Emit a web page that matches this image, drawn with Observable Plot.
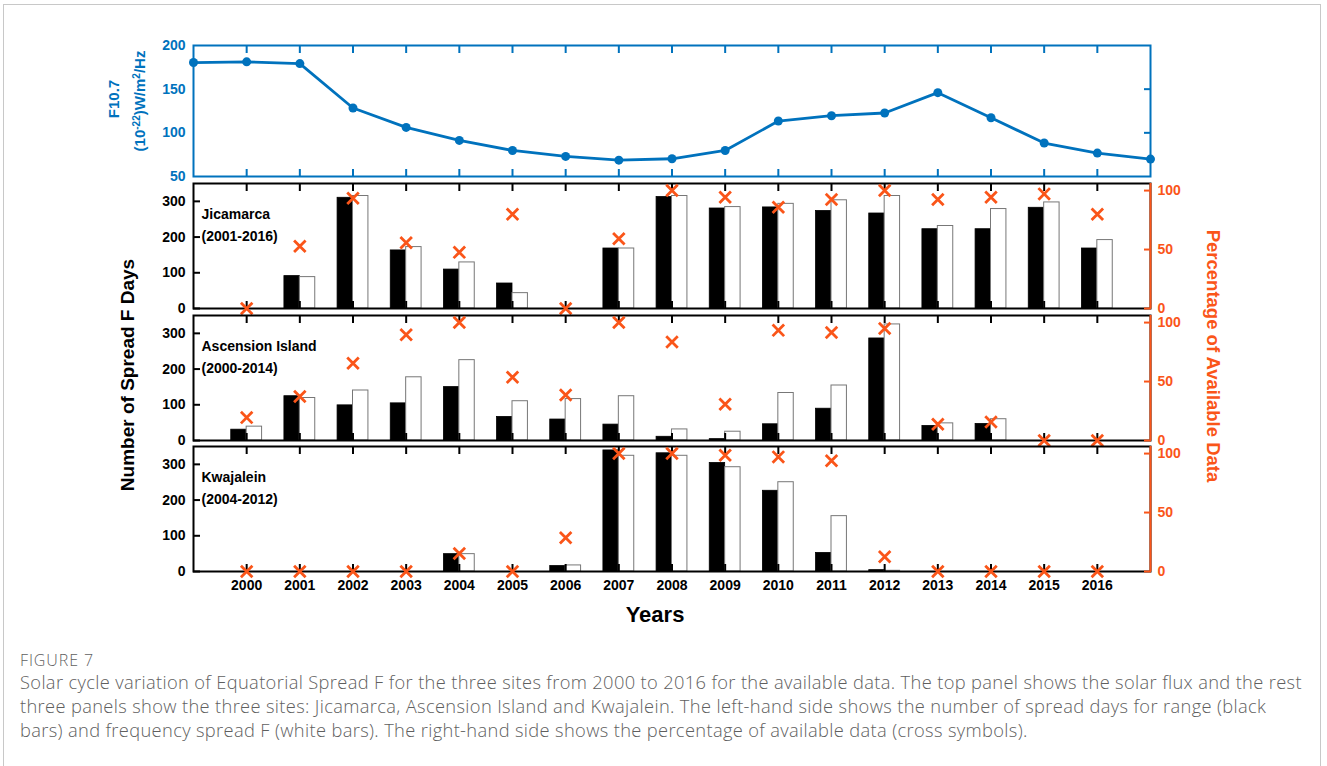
<!DOCTYPE html>
<html><head><meta charset="utf-8">
<script src="https://cdn.jsdelivr.net/npm/d3@7"></script>
<script src="https://cdn.jsdelivr.net/npm/@observablehq/plot@0.6"></script>
<style>
html,body{margin:0;padding:0;background:#fff;overflow:hidden;}
#fig{position:relative;width:1327px;height:766px;font-family:"Liberation Sans",Arial,sans-serif;}
.panel{position:absolute;left:0;}
.lbl{position:absolute;font-weight:bold;white-space:nowrap;line-height:1;font-family:"Liberation Sans",Arial,sans-serif;}
.cap{position:absolute;left:20px;font-family:"Open Sans","Noto Sans",sans-serif;color:#5f5f5f;white-space:nowrap;font-weight:300;}
</style></head><body>
<div id="fig"></div>
<script>
// ---------- data ----------
const years = [2000,2001,2002,2003,2004,2005,2006,2007,2008,2009,2010,2011,2012,2013,2014,2015,2016];
const fluxYears = [1999,2000,2001,2002,2003,2004,2005,2006,2007,2008,2009,2010,2011,2012,2013,2014,2015,2016,2017];
const f107 = [180.5,181.3,179.3,128.4,106.2,91.3,79.8,73.0,68.7,70.3,79.8,113.5,119.6,122.7,146.0,117.3,88.3,76.8,69.9];

const sites = ["Jicamarca","Ascension Island","Kwajalein"];
const spans = ["(2001-2016)","(2000-2014)","(2004-2012)"];

const jicRange = [null,90.7,310,162.6,109,70,null,168,312,280,283,273,266,222,222,282,168];
const jicFreq  = [null,87.9,315,172,129,43,null,168,315,284,293,303,315,231,278.5,297,191.6];
const jicPct   = [0,52.7,93.5,55.8,47.6,79.9,0,59.2,100,94.3,85.8,92.4,100,92.4,94.3,97.2,79.9];

const ascRange = [30.3,124,98.4,104,149.5,66,58.7,44.5,10.4,3.8,45.4,89,285.7,40.7,46.4,null,null];
const ascFreq  = [38.8,119,140,177,225,110,116,124,31,24.6,133,154,325,48,59.6,null,null];
const ascPct   = [19.4,37.3,65.5,89.7,100,53.6,38.5,100,83.5,30.8,93.4,91.5,94.9,13.7,15.7,0,0];

const kwaRange = [null,null,null,null,48.6,null,15.2,339,331,304,226,52,3.8,null,null,null,null];
const kwaFreq  = [null,null,null,null,48.6,null,17,324,324,292,250,155,2,null,null,null,null];
const kwaPct   = [0,0,0,0,15.3,0,28.7,100,100,98.6,97.2,94,12.5,0,0,0,0];

const fluxTicks = [50,100,150,200];
const dayTicks = [0,100,200,300];
const pctTicks = [0,50,100];

// ---------- layout ----------
const W = 1327, X0 = 193, X1 = 1150;
const BLUE = "#0072BD", ORANGE = "#FA5519";
const BW = 0.29;
const fig = document.getElementById("fig");
const baseStyle = c => `background:transparent;overflow:visible;font-family:'Liberation Sans',Arial,sans-serif;font-size:14px;font-weight:bold;color:${c};`;

function place(svg, top) {
  svg.classList.add("panel");
  svg.style.position = "absolute";
  svg.style.left = "0px";
  svg.style.top = top + "px";
  fig.appendChild(svg);
}

const noText = () => "";

// ---------- top panel: F10.7 ----------
{
  const t = 45, b = 176, mt = 10, mb = 10;
  const data = fluxYears.map((y,i)=>({year:y, v:f107[i]}));
  const svg = Plot.plot({
    width: W, height: (b-t)+mt+mb,
    marginLeft: X0, marginRight: W-X1, marginTop: mt, marginBottom: mb,
    style: baseStyle(BLUE),
    x: {domain:[1999,2017], axis:null},
    y: {domain:[50,200], axis:null},
    marks: [
      Plot.axisX(years, {anchor:"top", tickSize:-7, tickFormat:noText, label:null, strokeWidth:2}),
      Plot.axisX(years, {anchor:"bottom", tickSize:-7, tickFormat:noText, label:null, strokeWidth:2}),
      Plot.axisY([100,150], {anchor:"right", tickSize:-7, tickFormat:noText, label:null, strokeWidth:2}),
      Plot.axisY(fluxTicks, {anchor:"left", tickSize:0, tickPadding:8, label:null}),
      Plot.line(data, {x:"year", y:"v", stroke:BLUE, strokeWidth:2.8}),
      Plot.dot(data, {x:"year", y:"v", r:4.5, fill:BLUE}),
      Plot.frame({stroke:BLUE, strokeWidth:2})
    ]
  });
  place(svg, t-mt);
}

// ---------- site panels ----------
const panels = [
  {t:183, b:308, range:jicRange, freq:jicFreq, pct:jicPct},
  {t:314.5, b:439.5, range:ascRange, freq:ascFreq, pct:ascPct},
  {t:446, b:571, range:kwaRange, freq:kwaFreq, pct:kwaPct}
];

panels.forEach((p, k) => {
  const mt = 10, mb = (k === 2) ? 30 : 10;
  const data = years.map((y,i)=>({year:y, range:p.range[i], freq:p.freq[i], pct:p.pct[i]}));
  const bars = data.filter(d => d.range != null);
  const last = k === 2;
  const left = Plot.plot({
    width: W, height: (p.b-p.t)+mt+mb,
    marginLeft: X0, marginRight: W-X1, marginTop: mt, marginBottom: mb,
    style: baseStyle("black"),
    x: {domain:[1999,2017], axis:null},
    y: {domain:[0,350], axis:null},
    marks: [
      Plot.rect(bars, {x1: d => d.year - BW, x2: "year", y1: 0, y2: "range", fill:"black", stroke:"black", strokeWidth:0.8}),
      Plot.rect(bars, {x1: "year", x2: d => d.year + BW, y1: 0, y2: "freq", fill:"white", stroke:"#777", strokeWidth:1}),
      Plot.axisX(years, {anchor:"top", tickSize:-7, tickFormat:noText, label:null, strokeWidth:2}),
      Plot.axisX(years, {anchor:"bottom", tickSize:-7, tickFormat:noText, label:null, strokeWidth:2}),
      Plot.axisY(dayTicks, {anchor:"left", tickSize:-7, tickFormat:noText, label:null, strokeWidth:2}),
      Plot.axisY(dayTicks, {anchor:"left", tickSize:0, tickPadding:8, label:null}),
      ...(last ? [Plot.axisX(years, {anchor:"bottom", tickSize:0, tickPadding:9, tickFormat:d=>String(d), label:null})] : []),
      Plot.text([sites[k] + "\n" + spans[k]], {frameAnchor:"top-left", dx:8, dy:20, lineAnchor:"top", lineHeight:1.57, textAnchor:"start", fill:"black"}),
      Plot.frame({stroke:"black", strokeWidth:2})
    ]
  });
  place(left, p.t-mt);

  const right = Plot.plot({
    width: W, height: (p.b-p.t)+mt+mb,
    marginLeft: X0, marginRight: W-X1, marginTop: mt, marginBottom: mb,
    style: baseStyle(ORANGE),
    x: {domain:[1999,2017], axis:null},
    y: {domain:[0,106], axis:null},
    marks: [
      Plot.ruleX([2017], {stroke:ORANGE, strokeWidth:2}),
      Plot.axisY(pctTicks, {anchor:"right", tickSize:-7, tickFormat:noText, label:null, strokeWidth:2}),
      Plot.axisY(pctTicks, {anchor:"right", tickSize:0, tickPadding:7, label:null}),
      Plot.dot(data, {x:"year", y:"pct", symbol:"times", r:5.3, stroke:ORANGE, strokeWidth:2.8})
    ]
  });
  place(right, p.t-mt);
});

// ---------- HTML labels ----------
function label(text, cx, cy, size, color, rot, html) {
  const d = document.createElement("div");
  d.className = "lbl";
  if (html) d.innerHTML = text; else d.textContent = text;
  d.style.left = cx + "px";
  d.style.top = cy + "px";
  d.style.fontSize = size + "px";
  d.style.color = color;
  d.style.transform = `translate(-50%,-50%) rotate(${rot}deg)`;
  fig.appendChild(d);
}
label("F10.7", 113, 99, 15, BLUE, -90);
label("(10<sup style='font-size:10px;vertical-align:5px'>-22</sup>)W/m<sup style='font-size:10px;vertical-align:5px'>2</sup>/Hz", 139, 101, 15, BLUE, -90, true);
label("Number of Spread F Days", 127, 375, 19, "black", -90);
label("Percentage of Available Data", 1213, 356, 18.5, ORANGE, 90);
label("Years", 655, 615, 22, "black", 0);

// ---------- caption ----------
const border = document.createElement("div");
border.style.cssText = "position:absolute;left:3px;top:4px;width:1318px;height:800px;border:1px solid #c8c8c8;box-sizing:border-box;";
fig.appendChild(border);

const capTitle = "FIGURE 7";
const capLines = [
  "Solar cycle variation of Equatorial Spread F for the three sites from 2000 to 2016 for the available data. The top panel shows the solar flux and the rest",
  "three panels show the three sites: Jicamarca, Ascension Island and Kwajalein. The left-hand side shows the number of spread days for range (black",
  "bars) and frequency spread F (white bars). The right-hand side shows the percentage of available data (cross symbols)."
];
{
  const t = document.createElement("div");
  t.className = "cap";
  t.textContent = capTitle;
  t.style.cssText += "top:650px;font-size:16px;line-height:20px;letter-spacing:0.9px;";
  fig.appendChild(t);
  capLines.forEach((s, i) => {
    const d = document.createElement("div");
    d.className = "cap";
    d.textContent = s;
    d.style.cssText += `top:${670 + i*24}px;font-size:18.3px;line-height:24px;letter-spacing:0.35px;`;
    fig.appendChild(d);
  });
}
</script>
</body></html>
